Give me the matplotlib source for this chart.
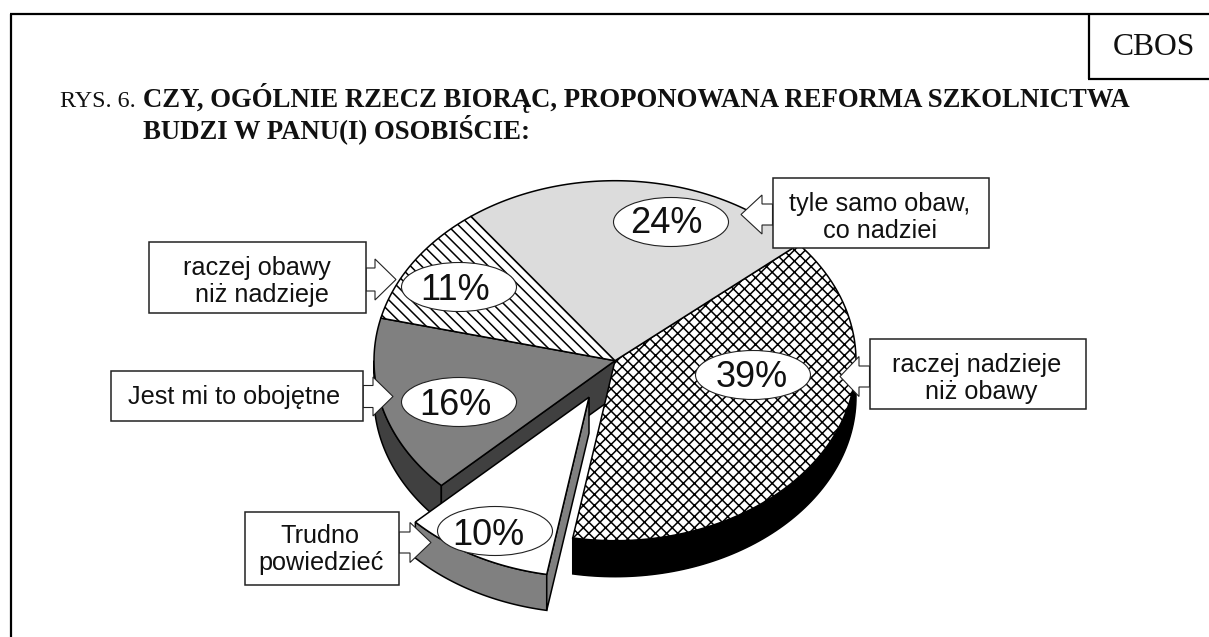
import numpy as np
import matplotlib
matplotlib.use('Agg')
import matplotlib.pyplot as plt
from matplotlib.patches import Polygon, Rectangle, Ellipse

# shares clockwise, starting at the right edge of the "24%" slice
names = ['raczej nadzieje niż obawy', 'Trudno powiedzieć', 'Jest mi to obojętne',
         'raczej obawy niż nadzieje', 'tyle samo obaw, co nadziei']
shares = [39, 10, 16, 11, 24]
pct_labels = ['39%', '10%', '16%', '11%', '24%']
top_colors = ['white', 'white', '#808080', 'white', '#dcdcdc']
side_colors = ['black', '#808080', '#404040', 'white', '#dcdcdc']
hatches = ['xxx', None, None, '\\\\\\', None]

start_angle = 40.3
cx, cy = 615, 360.7
rx, ry = 241, 180
depth = 36
explode = (-26, 36.5)

plt.rcParams['hatch.linewidth'] = 1.1
sans = 'Liberation Sans'
serif = 'Liberation Serif'

fig = plt.figure(figsize=(12.09, 6.37), dpi=100)
ax = fig.add_axes([0, 0, 1, 1])
ax.set_xlim(0, 1209)
ax.set_ylim(637, 0)
ax.axis('off')

# slice limits in degrees
ends = start_angle - 3.6*np.cumsum(shares)
starts = ends + 3.6*np.array(shares)


def arc(a0, a1, off=(0, 0), dz=0):
    t = np.radians(np.linspace(a0, a1, 80))
    return np.column_stack([cx + off[0] + rx*np.cos(t), cy + off[1] + dz - ry*np.sin(t)])


def top_face(i, off=(0, 0)):
    pts = np.vstack([[cx + off[0], cy + off[1]], arc(starts[i], ends[i], off)])
    ax.add_patch(Polygon(pts, closed=True, edgecolor='black', linewidth=1.1,
                         facecolor=top_colors[i], hatch=hatches[i]))


def outer_side(i, a0, a1, off=(0, 0)):
    pts = np.vstack([arc(a0, a1, off), arc(a1, a0, off, depth)])
    ax.add_patch(Polygon(pts, closed=True, edgecolor='black', linewidth=1.1, facecolor=side_colors[i]))


def cut_face(i, angle, off=(0, 0)):
    p = arc(angle, angle, off)[0]
    a = (cx + off[0], cy + off[1])
    pts = [a, p, (p[0], p[1] + depth), (a[0], a[1] + depth)]
    ax.add_patch(Polygon(pts, closed=True, edgecolor='black', linewidth=1.1, facecolor=side_colors[i]))


# dark slice first, everything else sits over it
outer_side(2, starts[2], -180)
cut_face(2, starts[2])

outer_side(0, 0, ends[0])
top_face(0)
top_face(2)
top_face(3)
top_face(4)

# pulled out slice
outer_side(1, starts[1], ends[1], explode)
cut_face(1, starts[1], explode)
top_face(1, explode)


# callouts: box, then arrow pointing at the pie
def callout(box, y, tip, back, shaft, head, lines):
    x0, y0, x1, y1 = box
    edge = x1 if tip > x1 else x0
    arrow = [(edge, y - shaft), (back, y - shaft), (back, y - head), (tip, y),
             (back, y + head), (back, y + shaft), (edge, y + shaft)]
    ax.add_patch(Polygon(arrow, closed=True, facecolor='white', edgecolor='#222222', linewidth=0.8))
    ax.add_patch(Rectangle((x0, y0), x1 - x0, y1 - y0, facecolor='white', edgecolor='#222222', linewidth=1.1))
    for txt, tx, ty in lines:
        ax.text(tx, ty, txt, family=sans, fontsize=18.2, ha='center', va='baseline', color='#111111')


callout((772.5, 178, 989, 248), 214.5, 741, 762, 10.5, 19.5,
        [('tyle samo obaw,', 880, 211), ('co nadziei', 880, 238)])
callout((869.5, 339, 1086, 409), 376.5, 840, 859, 10.5, 20,
        [('raczej nadzieje', 977, 372), ('niż obawy', 981, 399)])
callout((149, 242, 366, 313), 279.5, 396, 375, 11.5, 20.5,
        [('raczej obawy', 257, 275), ('niż nadzieje', 262, 302)])
callout((111, 371, 363, 421), 396.5, 393, 373, 11, 19.5,
        [('Jest mi to obojętne', 234, 404)])
callout((245, 512, 399, 585), 542.5, 431, 410, 10.5, 20,
        [('Trudno', 320, 543), ('powiedzieć', 321, 570)])

# percent ovals
oval_centers = [(753, 375), (495, 531), (459, 402), (459, 287), (671, 222)]
pct_text_pos = [(752, 387), (488, 545), (455, 415), (455, 300), (666, 233)]
for lab, (ox, oy), (tx, ty) in zip(pct_labels, oval_centers, pct_text_pos):
    ax.add_patch(Ellipse((ox, oy), 115, 49, facecolor='white', edgecolor='#222222', linewidth=0.8))
    ax.text(tx, ty, lab, family=sans, fontsize=26, ha='center', va='baseline', color='#111111')

# frame
ax.plot([11, 11], [637, 14], color='black', lw=1.6, solid_capstyle='butt')
ax.plot([10, 1209], [14, 14], color='black', lw=1.6, solid_capstyle='butt')
ax.plot([1089, 1089], [14, 79], color='black', lw=1.6, solid_capstyle='butt')
ax.plot([1088, 1209], [79, 79], color='black', lw=1.6, solid_capstyle='butt')
ax.text(1154, 55, 'CBOS', family=serif, fontsize=22.8, ha='center', va='baseline', color='#111111')

# title
ax.text(60, 107, 'RYS. 6.', family=serif, fontsize=17.4, va='baseline', color='#111111')
ax.text(143, 107, 'CZY, OGÓLNIE RZECZ BIORĄC, PROPONOWANA REFORMA SZKOLNICTWA',
        family=serif, weight='bold', fontsize=19.3, va='baseline', color='#111111')
ax.text(143, 138, 'BUDZI W PANU(I) OSOBIŚCIE:', family=serif, weight='bold', fontsize=19.3,
        va='baseline', color='#111111')

fig.savefig('out.png', dpi=100)
